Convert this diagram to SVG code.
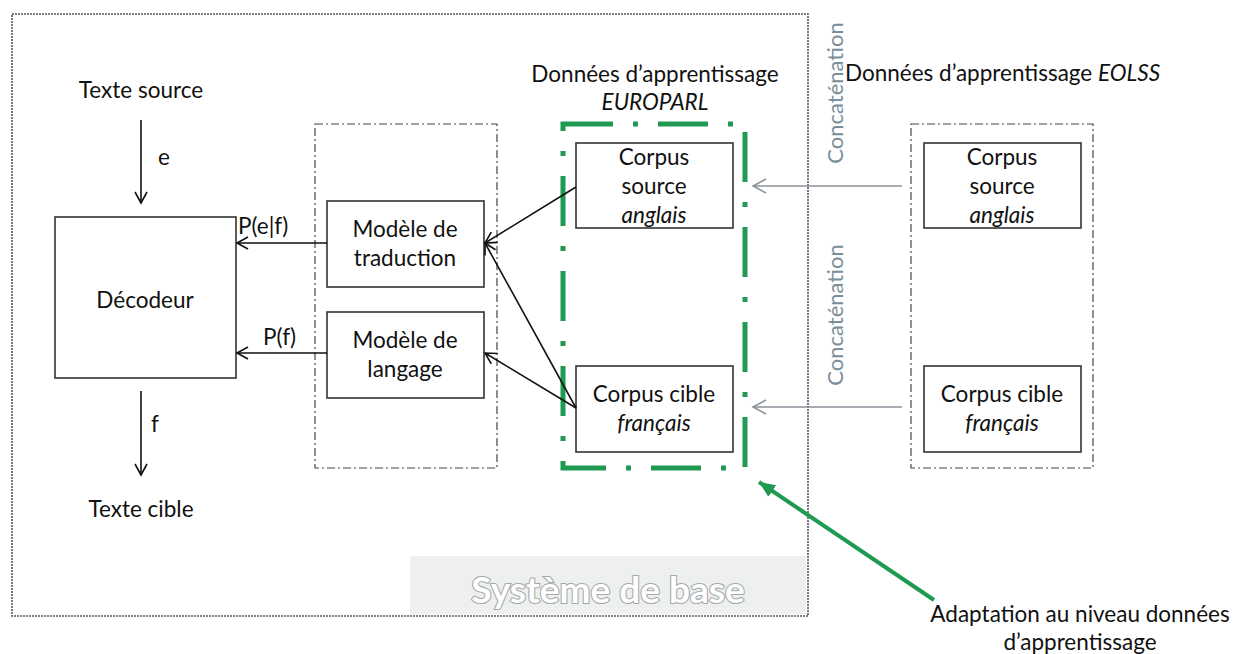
<svg xmlns="http://www.w3.org/2000/svg" width="1233" height="654" viewBox="0 0 1233 654">
<defs>
<style>
text{font-family:Lato,"Liberation Sans",sans-serif;font-size:22.5px;fill:#111;}
.c{text-anchor:middle;}
.i{font-style:italic;}
.box{fill:#fff;stroke:#333;stroke-width:1.6;}
.grp{fill:none;stroke:#445;stroke-width:1.2;stroke-dasharray:8 3 2 3;}
.ln{fill:none;stroke:#111;stroke-width:1.6;}
.gl{fill:none;stroke:#8a9299;stroke-width:1.6;}
.conc{fill:#7a8e9a;font-size:22px;}
</style>
<marker id="ab" markerWidth="14" markerHeight="14" refX="12" refY="7" orient="auto" markerUnits="userSpaceOnUse">
<path d="M1,1 L12,7 L1,13" fill="none" stroke="#111" stroke-width="1.6"/>
</marker>
<marker id="ag" markerWidth="16" markerHeight="16" refX="14" refY="8" orient="auto" markerUnits="userSpaceOnUse">
<path d="M1,1 L14,8 L1,15" fill="none" stroke="#8a9299" stroke-width="1.6"/>
</marker>
<marker id="agr" markerWidth="20" markerHeight="20" refX="16" refY="8" orient="auto" markerUnits="userSpaceOnUse">
<path d="M0,1 L16,8 L0,15 Z" fill="#1e9a52"/>
</marker>
</defs>

<g id="systeme">
<rect x="12" y="14" width="796" height="602" fill="none" stroke="#556" stroke-width="1.6" stroke-dasharray="2 1"/>
<rect x="410" y="556" width="396" height="58" fill="#eef0f0"/>
<text x="608" y="603" class="c" style="font-size:37px;font-weight:bold;fill:#fff;stroke:#a4a9ac;stroke-width:2.2;paint-order:stroke">Système de base</text>
</g>

<g id="texte-source"><text x="141" y="98" class="c">Texte source</text></g>
<g id="texte-cible"><text x="141" y="517" class="c">Texte cible</text></g>

<g id="decodeur">
<rect class="box" x="55" y="217" width="181" height="161"/>
<text x="145" y="308" class="c">Décodeur</text>
</g>

<g id="modeles-groupe"><rect class="grp" x="315" y="124" width="182" height="344"/></g>
<g id="modele-traduction">
<rect class="box" x="327" y="201" width="157" height="86"/>
<text x="405" y="237" class="c">Modèle de</text>
<text x="405" y="266" class="c">traduction</text>
</g>
<g id="modele-langage">
<rect class="box" x="327" y="312" width="157" height="86"/>
<text x="405" y="348" class="c">Modèle de</text>
<text x="405" y="377" class="c">langage</text>
</g>

<g id="europarl">
<text x="655" y="82" class="c">Données d’apprentissage</text>
<text x="655" y="110" class="c i">EUROPARL</text>
<rect x="563" y="124" width="182" height="344" fill="none" stroke="#1e9a52" stroke-width="5" stroke-dasharray="50 20 5 20"/>
</g>
<g id="europarl-source">
<rect class="box" x="576" y="143" width="157" height="85"/>
<text x="654" y="165" class="c">Corpus</text>
<text x="654" y="194" class="c">source</text>
<text x="654" y="223" class="c i">anglais</text>
</g>
<g id="europarl-cible">
<rect class="box" x="576" y="366" width="157" height="86"/>
<text x="654" y="402" class="c">Corpus cible</text>
<text x="654" y="431" class="c i">français</text>
</g>

<g id="eolss">
<text x="845" y="81">Données d’apprentissage <tspan class="i">EOLSS</tspan></text>
<rect class="grp" x="911" y="124" width="182" height="344"/>
</g>
<g id="eolss-source">
<rect class="box" x="924" y="143" width="157" height="85"/>
<text x="1002" y="165" class="c">Corpus</text>
<text x="1002" y="194" class="c">source</text>
<text x="1002" y="223" class="c i">anglais</text>
</g>
<g id="eolss-cible">
<rect class="box" x="924" y="366" width="157" height="86"/>
<text x="1002" y="402" class="c">Corpus cible</text>
<text x="1002" y="431" class="c i">français</text>
</g>

<g id="adaptation">
<text x="1080" y="622" class="c">Adaptation au niveau données</text>
<text x="1080" y="650" class="c">d’apprentissage</text>
</g>

<g id="connecteurs">
<line class="ln" x1="141" y1="120" x2="141" y2="203" marker-end="url(#ab)"/>
<text x="158" y="165">e</text>
<line class="ln" x1="141" y1="391" x2="141" y2="475" marker-end="url(#ab)"/>
<text x="151" y="432">f</text>
<line class="ln" x1="327" y1="243" x2="237" y2="243" marker-end="url(#ab)"/>
<text x="238" y="234">P(e|f)</text>
<line class="ln" x1="327" y1="353" x2="237" y2="353" marker-end="url(#ab)"/>
<text x="263" y="345">P(f)</text>
<line class="ln" x1="576" y1="187" x2="485" y2="243" marker-end="url(#ab)"/>
<line class="ln" x1="576" y1="408" x2="485" y2="243" marker-end="url(#ab)"/>
<line class="ln" x1="576" y1="408" x2="485" y2="353" marker-end="url(#ab)"/>
<line class="gl" x1="902" y1="186" x2="753" y2="186" marker-end="url(#ag)"/>
<line class="gl" x1="902" y1="407" x2="753" y2="407" marker-end="url(#ag)"/>
<text class="conc c" transform="translate(843,93) rotate(-90)">Concaténation</text>
<text class="conc c" transform="translate(843,315) rotate(-90)">Concaténation</text>
<line x1="934" y1="600" x2="759" y2="482" stroke="#1e9a52" stroke-width="4" marker-end="url(#agr)"/>
</g>
</svg>
